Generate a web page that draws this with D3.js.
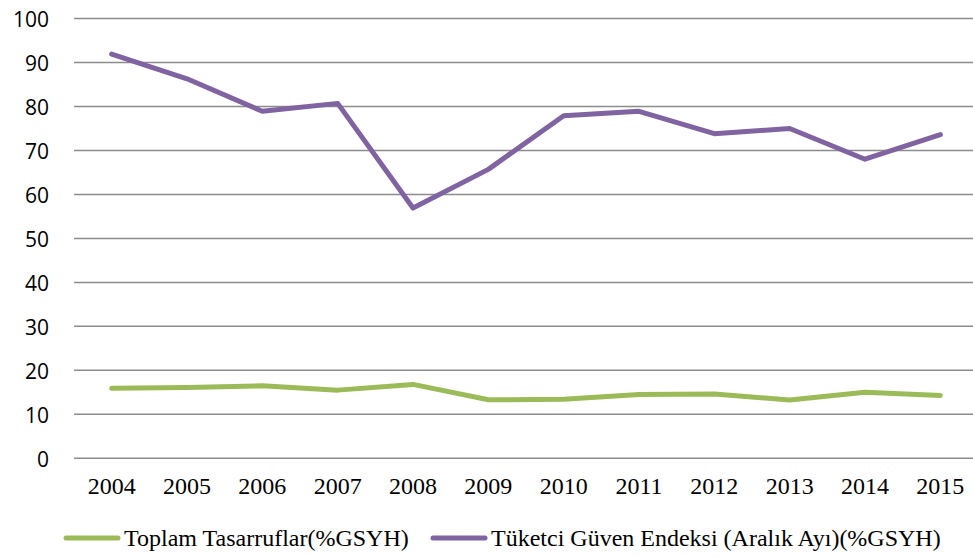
<!DOCTYPE html>
<html lang="en">
<head>
<meta charset="utf-8">
<script src="https://cdnjs.cloudflare.com/ajax/libs/d3/7.8.5/d3.min.js"></script>
<style>
    body { margin: 0; background: #fff; }
    svg { display: block; }
    .yaxis text { font-family: 'Open Sans', 'Liberation Sans', sans-serif; font-size: 21px; fill: #000; }
    .xaxis text { font-family: 'Liberation Serif', 'Times New Roman', serif; font-size: 24px; fill: #000; }
    .legend text { font-family: 'Liberation Serif', 'Times New Roman', serif; font-size: 24px; fill: #000; }
</style>
</head>
<body>
<svg></svg>
<script>
    const years = ['2004', '2005', '2006', '2007', '2008', '2009', '2010', '2011', '2012', '2013', '2014', '2015']
    const savings = [15.9, 16.1, 16.5, 15.5, 16.8, 13.3, 13.4, 14.5, 14.6, 13.25, 15.0, 14.3]
    const confidence = [91.9, 86.3, 78.9, 80.7, 56.9, 65.7, 77.9, 78.9, 73.8, 75.0, 68.0, 73.6]
    const yTicks = [0, 10, 20, 30, 40, 50, 60, 70, 80, 90, 100]
    const seriesNames = ['Toplam Tasarruflar(%GSYH)', 'Tüketci Güven Endeksi (Aralık Ayı)(%GSYH)']
    const seriesColors = ['#9BBB59', '#8064A2']

    const w = 973, h = 557
    const plotLeft = 74, plotRight = 978, plotTop = 18.5, plotBottom = 458.3

    const svg = d3.select('svg').attr('width', w).attr('height', h)

    const x = d3.scaleBand().domain(years).range([plotLeft, plotRight]).padding(0)
    const y = d3.scaleLinear().domain([0, 100]).range([plotBottom, plotTop])

    // gridlines
    svg.append('g')
        .selectAll('line')
        .data(yTicks)
        .enter()
        .append('line')
        .attr('x1', plotLeft)
        .attr('x2', w)
        .attr('y1', d => y(d))
        .attr('y2', d => y(d))
        .attr('stroke', '#8c8c8c')
        .attr('stroke-width', 1.5)

    const yAxis = d3.axisLeft(y).tickValues(yTicks).tickSize(0).tickPadding(0)
    const yg = svg.append('g')
        .attr('class', 'yaxis')
        .attr('transform', 'translate(49,1)')
        .call(yAxis)
    yg.select('.domain').remove()

    const xAxis = d3.axisBottom(x).tickSize(0).tickPadding(0)
    const xg = svg.append('g')
        .attr('class', 'xaxis')
        .attr('transform', 'translate(0,' + (plotBottom + 19) + ')')
        .call(xAxis)
    xg.select('.domain').remove()

    const line = d3.line()
        .x((d, i) => x(years[i]) + x.bandwidth() / 2)
        .y(d => y(d))

    ;[savings, confidence].forEach((vals, k) => {
        svg.append('path')
            .datum(vals)
            .attr('d', line)
            .attr('fill', 'none')
            .attr('stroke', seriesColors[k])
            .attr('stroke-width', 5)
            .attr('stroke-linejoin', 'round')
            .attr('stroke-linecap', 'round')
    })

    // legend
    const legendX = [66, 433]
    const lg = svg.append('g').attr('class', 'legend')
    seriesNames.forEach((name, k) => {
        lg.append('line')
            .attr('x1', legendX[k])
            .attr('x2', legendX[k] + 52)
            .attr('y1', 538)
            .attr('y2', 538)
            .attr('stroke', seriesColors[k])
            .attr('stroke-width', 5)
            .attr('stroke-linecap', 'round')
        lg.append('text')
            .attr('x', legendX[k] + 58)
            .attr('y', 546)
            .text(name)
    })
</script>
</body>
</html>
